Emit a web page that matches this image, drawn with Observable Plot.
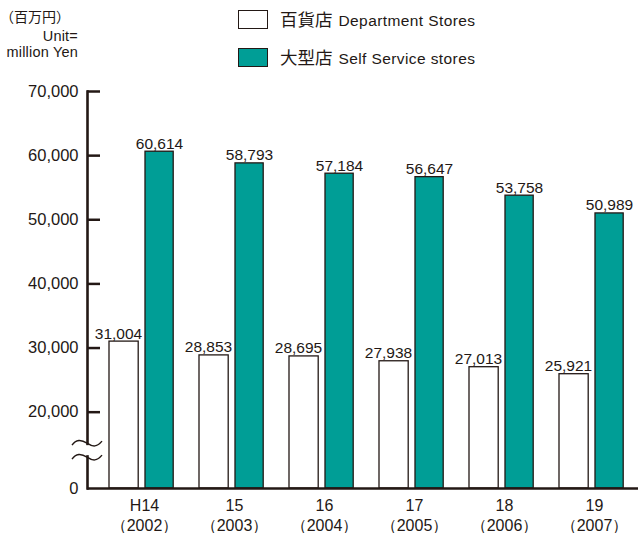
<!DOCTYPE html>
<html>
<head>
<meta charset="utf-8">
<script src="https://cdn.jsdelivr.net/npm/d3@7"></script>
<script src="https://cdn.jsdelivr.net/npm/@observablehq/plot@0.6"></script>
<style>
  html, body { margin: 0; padding: 0; background: white; }
  #wrap { position: relative; width: 638px; height: 533px; overflow: hidden; font-family: "Liberation Sans", Arial, sans-serif; color: #231815; }
  .abs { position: absolute; white-space: nowrap; }
  .box { position: absolute; width: 28px; height: 17px; border: 1.5px solid #231815; }
  .jp { font-family: "Noto Sans CJK JP", sans-serif; font-size: 16px; }
  .en { font-size: 14.5px; letter-spacing: 0.2px; }
</style>
</head>
<body>
<div id="wrap"></div>
<script>
// ---- data ----
const years = ["H14", "15", "16", "17", "18", "19"];
const westernYears = ["2002", "2003", "2004", "2005", "2006", "2007"];
const deptStores = [31004, 28853, 28695, 27938, 27013, 25921];
const selfService = [60614, 58793, 57184, 56647, 53758, 50989];
const yTicks = [20000, 30000, 40000, 50000, 60000, 70000];
const yBase = 8100;          // bottom of the broken axis, labelled "0"
const breakAt = [14000];     // where the axis-break symbol sits

const ink = "#231815";
const teal = "#009e96";
const fmt = d3.format(",");

const data = years.map((y, i) => ({year: y, dept: deptStores[i], self: selfService[i]}));

const plot = Plot.plot({
  width: 638,
  height: 533,
  marginTop: 91,
  marginBottom: 45,
  marginLeft: 87,
  marginRight: 0,
  x: {domain: years, range: [92, 637], padding: 0, axis: null},
  y: {domain: [yBase, 70000], axis: null},
  style: {fontFamily: "'Liberation Sans', Arial, sans-serif", color: ink, background: "white", overflow: "hidden"},
  marks: [
    Plot.barY(data, {x: "year", y1: yBase, y2: "dept", fill: "white", stroke: ink, strokeWidth: 1.3, insetLeft: 14, insetRight: 46.8}),
    Plot.barY(data, {x: "year", y1: yBase, y2: "self", fill: teal, stroke: ink, strokeWidth: 1.3, insetLeft: 50, insetRight: 11.8}),
    Plot.text(data, {x: "year", y: "dept", text: d => fmt(d.dept), lineAnchor: "bottom", dy: -3, dx: -22, fontSize: 15.5, fill: ink, letterSpacing: 0.8}),
    Plot.text(data, {x: "year", y: "self", text: d => fmt(d.self), lineAnchor: "bottom", dy: -3, dx: 19, fontSize: 15.5, fill: ink, letterSpacing: 0.8}),
    Plot.ruleY([yBase], {stroke: ink, strokeWidth: 2.5}),
    Plot.frame({anchor: "left", stroke: ink, strokeWidth: 2.6}),
    Plot.ruleY(yTicks, {stroke: ink, strokeWidth: 2.5, insetRight: 638 - 87 - 13}),
    Plot.axisY([yBase, ...yTicks], {tickSize: 0, tickPadding: 9, fontSize: 16.5, letterSpacing: 0.6, label: null,
      tickFormat: d => d === yBase ? "0" : fmt(d)}),
    Plot.axisX({tickSize: 0, tickPadding: 8, fontSize: 16, lineHeight: 1.25, letterSpacing: 0.6, label: null, dx: 4,
      tickFormat: d => `${d}\n（${westernYears[years.indexOf(d)]}）`})
  ]
});

const wrap = document.getElementById("wrap");
wrap.appendChild(plot);

// axis break symbol, placed through the y scale
const ys = plot.scale("y");
const svg = d3.select(plot);
breakAt.forEach(v => {
  const cy = ys.apply(v);
  const g = svg.append("g").attr("fill", "none").attr("stroke", ink).attr("stroke-width", 1.4);
  g.append("rect").attr("x", 84).attr("y", cy - 5).attr("width", 6).attr("height", 10).attr("fill", "white").attr("stroke", "none");
  [-7, 7].forEach(o => {
    const y0 = cy + o;
    g.append("path").attr("d",
      `M72,${y0 + 2} C76,${y0 - 4} 81,${y0 - 4} 87,${y0} S97,${y0 + 4} 102,${y0 - 2}`);
  });
});

// unit label
const unit = [
  {t: "（百万円）", cls: "jp", style: "left:0px;top:6px;font-size:14px;"},
  {t: "Unit=", cls: "en", style: "right:560px;top:28px;font-size:14.5px;"},
  {t: "million Yen", cls: "en", style: "right:560px;top:44px;font-size:14.5px;"}
];
unit.forEach(u => {
  const el = document.createElement("div");
  el.className = "abs " + u.cls;
  el.style.cssText += u.style;
  el.textContent = u.t;
  wrap.appendChild(el);
});

// legend
const legend = [
  {jp: "百貨店", en: "Department Stores", fill: "white", top: 10},
  {jp: "大型店", en: "Self Service stores", fill: teal, top: 48}
];
legend.forEach(l => {
  const b = document.createElement("div");
  b.className = "box";
  b.style.left = "238px";
  b.style.top = l.top + "px";
  b.style.background = l.fill;
  wrap.appendChild(b);
  const t = document.createElement("div");
  t.className = "abs";
  t.style.left = "280px";
  t.style.top = (l.top - 4) + "px";
  t.innerHTML = `<span class="jp" style="font-size:17.5px">${l.jp}</span><span class="en" style="font-size:15.5px;margin-left:6px;letter-spacing:0.4px">${l.en}</span>`;
  wrap.appendChild(t);
});
</script>
</body>
</html>
